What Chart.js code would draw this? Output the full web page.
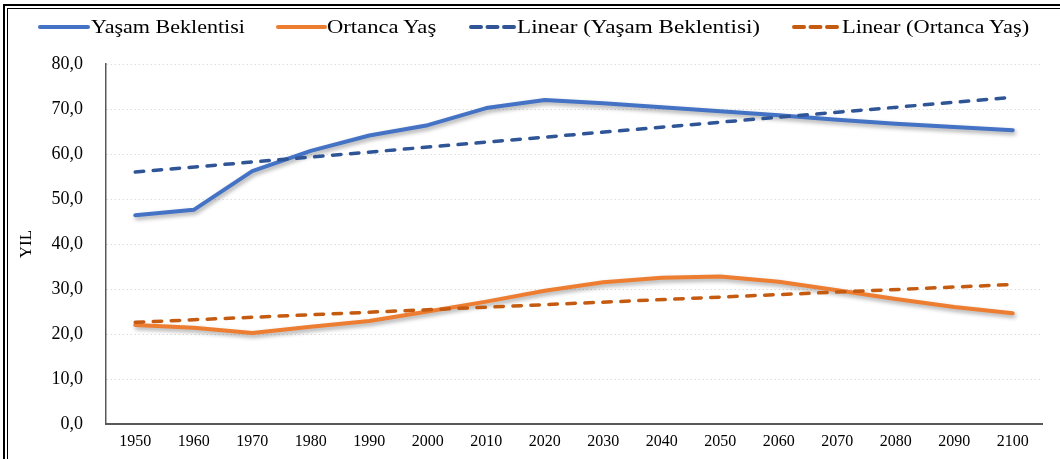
<!DOCTYPE html>
<html>
<head>
<meta charset="utf-8">
<script src="https://cdn.jsdelivr.net/npm/chart.js@4/dist/chart.umd.min.js"></script>
<style>
  html, body { margin: 0; padding: 0; background: #fff; width: 1060px; height: 459px; overflow: hidden; }
  #wrap { position: relative; width: 1060px; height: 459px; }
  #c { position: absolute; left: 0; top: 0; }
  .frameOuter { position: absolute; left: 3px; top: 4px; width: 1200px; height: 600px; border-left: 2px solid #000; border-top: 2px solid #000; }
  .frameInner { position: absolute; left: 7px; top: 8px; width: 1200px; height: 600px; border-left: 1px solid #000; border-top: 1px solid #000; }
  .lg { position: absolute; top: 18px; font-family: "Liberation Serif", "Times New Roman", serif; font-size: 18px; line-height: 18px; color: #000; white-space: nowrap; transform-origin: 0 0; }
  .sw { position: absolute; top: 22px; }
</style>
</head>
<body>
<div id="wrap">
  <canvas id="c" width="1060" height="459"></canvas>
  <div class="frameOuter"></div>
  <div class="frameInner"></div>
  <div id="legend"></div>
</div>
<script>
const years = ['1950','1960','1970','1980','1990','2000','2010','2020','2030','2040','2050','2060','2070','2080','2090','2100'];
const yasamBeklentisi = [46.4, 47.6, 56.2, 60.7, 64.1, 66.4, 70.2, 72.0, 71.3, 70.4, 69.5, 68.6, 67.6, 66.7, 66.0, 65.3];
const ortancaYas = [22.0, 21.4, 20.2, 21.6, 22.9, 25.0, 27.2, 29.6, 31.5, 32.5, 32.8, 31.6, 29.7, 27.8, 26.0, 24.6];
const trendYasam = [56.0, null, null, null, null, null, null, null, null, null, null, null, null, null, null, 72.6];
const trendOrtanca = [22.6, null, null, null, null, null, null, null, null, null, null, null, null, null, null, 31.0];
const yTicks = [0, 10, 20, 30, 40, 50, 60, 70, 80];
const seriesNames = ['Yaşam Beklentisi', 'Ortanca Yaş', 'Linear (Yaşam Beklentisi)', 'Linear (Ortanca Yaş)'];

const BLUE = '#4472C4', ORANGE = '#ED7D31', DBLUE = '#2F5597', DORANGE = '#C55A11';
const SERIF = '"Liberation Serif", "Times New Roman", serif';

const shadowPlugin = {
  id: 'shadow',
  beforeDatasetDraw(chart, args) {
    const ctx = chart.ctx;
    ctx.save();
    if (args.index < 2) {
      ctx.shadowColor = 'rgba(0,0,0,0.35)';
      ctx.shadowBlur = 4;
      ctx.shadowOffsetX = 1.5;
      ctx.shadowOffsetY = 2.5;
    }
  },
  afterDatasetDraw(chart) { chart.ctx.restore(); }
};

new Chart(document.getElementById('c'), {
  type: 'line',
  data: {
    labels: years,
    datasets: [
      { label: seriesNames[0], data: yasamBeklentisi, borderColor: BLUE, borderWidth: 4, pointRadius: 0, tension: 0, order: 2, borderCapStyle: 'round', borderJoinStyle: 'round', clip: false },
      { label: seriesNames[1], data: ortancaYas, borderColor: ORANGE, borderWidth: 4, pointRadius: 0, tension: 0, order: 2, borderCapStyle: 'round', borderJoinStyle: 'round', clip: false },
      { label: seriesNames[2], data: trendYasam, borderColor: DBLUE, borderWidth: 3.5, borderDash: [8.5, 9.5], borderCapStyle: 'round', pointRadius: 0, spanGaps: true, order: 1, clip: false },
      { label: seriesNames[3], data: trendOrtanca, borderColor: DORANGE, borderWidth: 3.5, borderDash: [8.5, 9.5], borderCapStyle: 'round', pointRadius: 0, spanGaps: true, order: 1, clip: false }
    ]
  },
  options: {
    responsive: false,
    animation: false,
    devicePixelRatio: 1,
    layout: { padding: { top: 64, right: 18, left: 0, bottom: 0 } },
    plugins: { legend: { display: false }, tooltip: { enabled: false } },
    scales: {
      x: {
        offset: true,
        grid: { display: false, drawTicks: false },
        border: { display: true, color: '#595959', width: 2 },
        ticks: { color: '#000', font: { family: SERIF, size: 16 }, padding: 8, maxRotation: 0, autoSkip: false },
        afterFit(s) { s.height = 35; }
      },
      y: {
        min: 0, max: 80,
        afterBuildTicks(s) { s.ticks = yTicks.map(v => ({ value: v })); },
        grid: { color: (c) => c.tick && c.tick.value === 0 ? 'rgba(0,0,0,0)' : '#DDDDDD', lineWidth: 1, drawTicks: false },
        border: { display: true, color: '#595959', width: 1.5, dash: [1.5, 2.5] },
        ticks: { color: '#000', font: { family: SERIF, size: 18 }, padding: 23, callback: (v) => Number(v).toFixed(1).replace('.', ',') },
        title: { display: true, text: 'YIL', color: '#000', font: { family: SERIF, size: 17 }, padding: { top: 16, bottom: 0 } },
        afterFit(s) { s.width = 106; }
      }
    }
  },
  plugins: [shadowPlugin]
});

// HTML legend
const legendItems = [
  { color: BLUE, dashed: false, x0: 40, x1: 88, tx: 91, tw: 154 },
  { color: ORANGE, dashed: false, x0: 278, x1: 325, tx: 327, tw: 110 },
  { color: DBLUE, dashed: true, x0: 471, x1: 515, tx: 517, tw: 243 },
  { color: DORANGE, dashed: true, x0: 794, x1: 840, tx: 842, tw: 188 }
];
const lg = document.getElementById('legend');
const mctx = document.createElement('canvas').getContext('2d');
mctx.font = '18px ' + SERIF;
legendItems.forEach((it, i) => {
  const w = it.x1 - it.x0;
  const svg = document.createElementNS('http://www.w3.org/2000/svg', 'svg');
  svg.setAttribute('class', 'sw');
  svg.setAttribute('width', w + 4);
  svg.setAttribute('height', 10);
  svg.style.left = (it.x0 - 2) + 'px';
  const ln = document.createElementNS('http://www.w3.org/2000/svg', 'line');
  ln.setAttribute('x1', 2); ln.setAttribute('x2', w + 2);
  ln.setAttribute('y1', 5); ln.setAttribute('y2', 5);
  ln.setAttribute('stroke', it.color);
  ln.setAttribute('stroke-width', 4);
  ln.setAttribute('stroke-linecap', 'round');
  if (it.dashed) ln.setAttribute('stroke-dasharray', '10 6.5');
  svg.appendChild(ln);
  lg.appendChild(svg);
  const sp = document.createElement('span');
  sp.className = 'lg';
  sp.textContent = seriesNames[i];
  sp.style.left = it.tx + 'px';
  const mw = mctx.measureText(seriesNames[i]).width;
  sp.style.transform = 'scaleX(' + (it.tw / mw).toFixed(3) + ')';
  lg.appendChild(sp);
});
</script>
</body>
</html>
